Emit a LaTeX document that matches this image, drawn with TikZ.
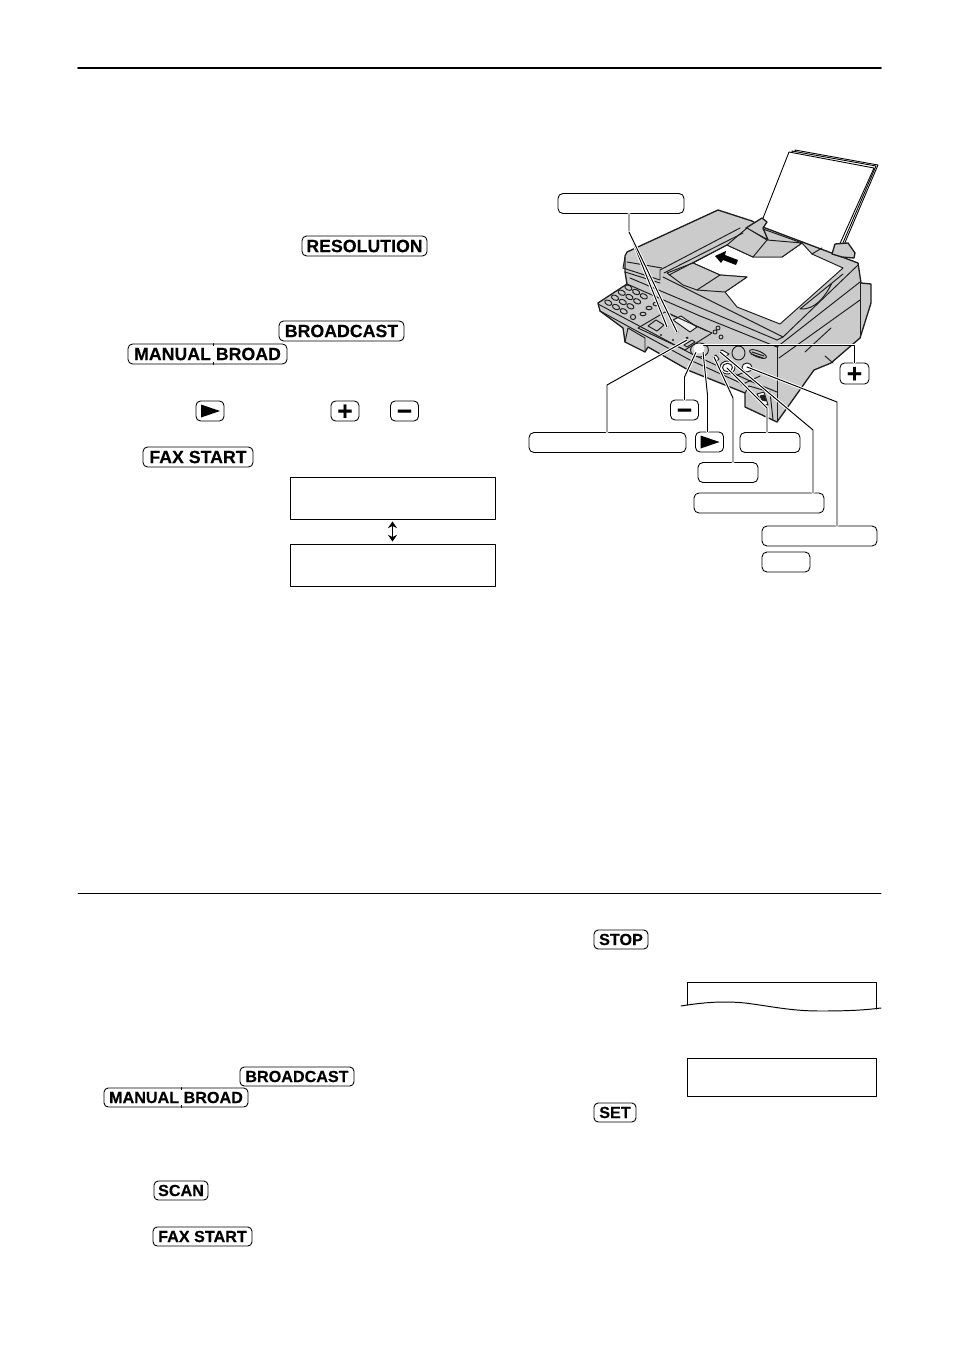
\documentclass[tikz,border=0pt]{standalone}
\usepackage{fontspec}
\setmainfont[BoldFeatures={FakeBold=0.2}]{Liberation Sans}
\usetikzlibrary{arrows,arrows.meta,positioning,calc}

\begin{document}
\begin{tikzpicture}[x=0.02cm,y=-0.02cm,>=stealth', line cap=round, line join=round,
      keybig/.style={draw=black,line width=0.5pt,rounded corners=2.6pt,inner sep=0pt,minimum height=0.4cm,font=\fontsize{10.1}{12}\bfseries\selectfont},
      keysmall/.style={draw=black,line width=0.5pt,rounded corners=2.4pt,inner sep=0pt,minimum height=0.38cm,font=\fontsize{9.2}{11}\bfseries\selectfont},
      keysign/.style={keybig,minimum width=0.56cm,font=\fontsize{15}{15}\bfseries\selectfont},
      callout/.style={draw=black,line width=0.5pt,rounded corners=2.8pt,inner sep=0pt,minimum height=0.4cm,fill=white},
      display/.style={draw=black,line width=0.55pt,inner sep=0pt},
      body/.style={fill=bodygray,draw=edge,line width=0.75pt},
      part/.style={draw=edge,line width=0.55pt},
      lead/.style={draw=black,line width=0.55pt,preaction={draw=white,line width=1.7pt}}]
      \definecolor{bodygray}{HTML}{CBCBCB}
      \definecolor{edge}{HTML}{1E1E1E}
      \newcommand{\plussign}{\raisebox{-5.1pt}[0pt][0pt]{+}}
      \newcommand{\minussign}{\raisebox{-5.1pt}[0pt][0pt]{−}}
      \path[use as bounding box,fill=white] (0,0) rectangle (954,1349);

      % rules
      \draw[line width=1.1pt] (78,68) -- (881,68);
      \draw[line width=0.55pt] (78,893) -- (881,893);

      % upper text keys
      \node[keybig,minimum width=2.5cm] (kres) at (364.5,246) {RESOLUTION};
      \node[keybig,minimum width=2.5cm] (kbroad) at (341.5,331) {BROADCAST};
      \node[keybig,minimum width=3.18cm] (kmanual) at (207.5,354) {MANUAL BROAD};
      \node[keybig,minimum width=2.2cm] (kfax) at (198,457) {FAX START};
      \node[keysign] (kplay) at (210,411) {};
      \node[keysign] (kplus) at (345,411) {\plussign};
      \node[keysign] (kminus) at (404.5,411) {\minussign};
      \fill ($(kplay)+(-9,-6.5)$) -- ($(kplay)+(10,0)$) -- ($(kplay)+(-9,6.5)$) -- cycle;
      \coordinate (t0) at (213,354);
      \draw[line width=0.5pt] (kmanual.north -| t0) -- ++(0,2);
      \draw[line width=0.5pt] (kmanual.south -| t0) -- ++(0,-2);

      % upper displays
      \node[display,minimum width=4.1cm,minimum height=0.84cm] (disp0) at (392.5,498) {};
      \node[display,minimum width=4.1cm,minimum height=0.84cm] (disp1) at (392.5,565) {};
      \coordinate (sw0) at ($(disp0.south)+(0,2)$);
      \coordinate (sw1) at ($(disp1.north)+(0,-2)$);
      \draw[{Stealth[length=3.8pt,width=5.2pt]}-{Stealth[length=3.8pt,width=5.2pt]},line width=0.9pt] (sw0) -- (sw1);

      % lower keys
      \node[keysmall,minimum width=2.28cm] (kbroad2) at (297,1076.5) {BROADCAST};
      \node[keysmall,minimum width=2.88cm] (kmanual2) at (176,1097.5) {MANUAL BROAD};
      \node[keysmall,minimum width=1.08cm] (kscan) at (181,1190.5) {SCAN};
      \node[keysmall,minimum width=1.98cm] (kfax2) at (202.5,1236.5) {FAX START};
      \node[keysmall,minimum width=1.08cm] (kstop) at (621,939.5) {STOP};
      \node[keysmall,minimum width=0.84cm] (kset) at (615,1112.5) {SET};
      \coordinate (t1) at (181,1097);
      \draw[line width=0.5pt] (kmanual2.north -| t1) -- ++(0,2);
      \draw[line width=0.5pt] (kmanual2.south -| t1) -- ++(0,-2);

      % lower displays
      \draw[display] (687,1005) -- (687,982) -- (876,982) -- (876,1009);
      \draw[line width=0.55pt] (681,1006) .. controls (705,1002) and (725,1001) .. (745,1003)
        .. controls (770,1006) and (790,1011) .. (820,1011) .. controls (850,1011) and (865,1010) .. (881,1008);
      \node[display,minimum width=3.78cm,minimum height=0.76cm] (disp2) at (781.5,1077) {};

      % paper on the stand
      \draw[fill=white,line width=0.5pt] (795,150) -- (878,165) -- (838,259) -- (830,256) -- cycle;
      \draw[fill=white,line width=0.5pt] (792,151) -- (876,166) -- (836,259) -- (800,240) -- cycle;
      \draw[fill=white,line width=0.5pt] (789,152) -- (874,168) -- (833,259) -- (756,236) -- cycle;

      % fax body
      \draw[body] (625,256) -- (627,252) -- (718,210) -- (752,221) -- (760,226) -- (858,263) -- (861,283)
        -- (871,284) -- (871,303) -- (860,338) -- (831,363) -- (814,370) -- (777,422) -- (745,407) -- (745,393)
        -- (690,371) -- (648,347) -- (645,352) -- (625,342) -- (623,328) -- (600,311) -- (598,303) -- (627,284)
        -- (625,272) -- cycle;
      % stand feet
      \draw[body] (746,228) -- (762,218) -- (767,222) -- (763,228) -- (768,240) -- (757,234) -- cycle;
      \draw[body] (832,254) -- (835,244) -- (848,243) -- (855,253) -- (854,258) -- (842,257) -- cycle;

      % top of the cover, paper and trays
      \draw[part,fill=white] (693,263) -- (727,245) -- (753,257) -- (782,257) -- (802,243) -- (812,254)
        -- (843,268) -- (780,324) -- (737,307) -- (725,292) -- (747,277) -- (720,275) -- cycle;
      \draw[part,fill=bodygray] (667,273) -- (693,263) -- (720,275) -- (747,277) -- (725,292) -- (697,290) -- (683,285) -- cycle;
      \draw[part] (697,290) -- (720,275);
      \draw[part,fill=bodygray] (727,245) -- (747,228) -- (767,240) -- (802,243) -- (782,257) -- (753,257) -- cycle;
      \draw[part] (753,257) -- (767,240);
      \draw[part] (763,229) -- (802,243);
      \draw[part] (812,254) -- (822,248);
      \fill (715,256) -- (726,251) -- (725,255) -- (738,260) -- (736,265) -- (723,260) -- (721,263) -- cycle;

      % lid and front edges
      \draw[part] (625,257) -- (623,268) -- (660,280) -- (660,270) -- (740,228);
      \draw[part] (627,262) -- (662,268);
      \draw[part] (664,273) -- (743,233);
      \draw[part] (669,275) -- (727,245);
      \draw[part] (625,272) -- (660,283);
      \draw[part] (663,277) -- (783,337);
      \draw[part] (630,278) -- (777,340);
      \draw[part] (627,284) -- (700,316) -- (725,326) -- (777,347);
      \draw[part] (598,304) -- (690,353) -- (750,381) -- (777,392);
      \draw[part] (600,311) -- (690,360) -- (745,385);
      \draw[part] (858,265) -- (783,337) -- (777,340);
      \draw[part] (843,274) -- (800,309) .. controls (815,310) and (825,297) .. (832,283);
      \draw[part] (777,347) -- (860,282);
      \draw[part] (779,358) -- (860,300);
      \draw[part] (777,347) -- (777,422);
      \draw[part] (860,283) -- (860,338);
      \draw[part] (805,352) -- (831,328);
      \draw[part] (825,356) -- (833,363);
      \draw[part] (625,342) -- (628,328) -- (645,338) -- (645,352);
      \draw[part] (745,393) -- (749,386) -- (770,392) -- (773,420);
      \draw[part,fill=white] (757,394) -- (764,392) -- (768,405) -- (762,404) -- cycle;
      \draw[part,fill=edge] (760,396) -- (764,395) -- (766,401) -- (762,400) -- cycle;

      % keypad
      \foreach \i in {0,1,2,3}
        \foreach \j in {0,1,2}
          \draw[part,fill=bodygray,rotate around={-25:(608.3+6.7*\i+7.7*\j,302.7-5*\i+4.3*\j)}]
            (608.3+6.7*\i+7.7*\j,302.7-5*\i+4.3*\j) ellipse (3.8 and 2.4);
      \draw[part] (633,317) circle (2.6);
      \draw[part] (643,314) ellipse (3 and 1.8);
      \draw[part] (649,308) ellipse (3 and 1.8);
      \draw[part] (656,304) ellipse (3 and 1.8);

      % control panel
      \draw[part] (638,328) -- (665,312) -- (712,333) -- (685,350) -- cycle;
      \draw[part] (648,326) -- (656,320) -- (664,325) -- (657,331) -- cycle;
      \draw[part,fill=white!70!bodygray] (673,320) -- (681,316) -- (697,327) -- (690,332) -- cycle;
      \draw[part] (668,313) -- (707,331);
      \fill[edge] (667,327) circle (1.5) (677,332) circle (1.5) (687,338) circle (1.5) (697,344) circle (1.3) (661,335) circle (1.2) (673,340) circle (1.2);
      \draw[part] (684,345) -- (692,340) -- (695,342) -- (687,347) -- cycle;

      % buttons right of the panel
      \draw[part] (715,332) circle (2) (721,337) circle (2) (718,328) circle (2);
      \draw[part,fill=white] (719,352) -- (722,350) -- (729,354) -- (726,356) -- cycle;
      \draw[part,fill=white] (713,357) -- (716,355) -- (719,359) -- (717,361) -- cycle;
      \draw[part] (738.5,353) ellipse (6.5 and 7);
      \draw[part,fill=bodygray,rotate around={-22:(758,354)}] (758,354) ellipse (9 and 3);
      \draw[part] (752,352) -- (764,356) (751,354) -- (763,358);
      \draw[part,fill=bodygray] (699.5,350) ellipse (9 and 7);
      \draw[part,fill=white] (727.5,367.5) ellipse (7.5 and 6.5);
      \draw[part,fill=white] (727.5,367.5) ellipse (5 and 4.2);
      \draw[part,fill=white] (747,367.5) ellipse (5 and 4.5);
      \draw[part] (735,376) -- (745,372);
      \draw[part] (741,385) -- (760,376);

      % callouts
      \node[callout,minimum width=2.52cm] (bA) at (621,203.5) {};
      \node[callout,minimum width=3.14cm] (bB) at (607.5,442.5) {};
      \node[callout,minimum width=1.2cm] (bC) at (770,442.5) {};
      \node[callout,minimum width=1.2cm] (bD) at (728,472.5) {};
      \node[callout,minimum width=2.6cm] (bE) at (759,503) {};
      \node[callout,minimum width=2.3cm] (bF) at (819.5,536) {};
      \node[callout,minimum width=0.96cm] (bG) at (786,562) {};
      \node[keysign,minimum width=0.58cm,minimum height=0.42cm,fill=white] (fplus) at (854.5,373.5) {\plussign};
      \node[keysign,fill=white] (fminus) at (684.5,410) {\minussign};
      \node[keysign,fill=white] (fplay) at (709.5,442) {};
      \fill ($(fplay)+(-9,-6.5)$) -- ($(fplay)+(10,0)$) -- ($(fplay)+(-9,6.5)$) -- cycle;

      % leader ends
      \coordinate (a0) at (629,232);
      \coordinate (a1) at (667,327);
      \coordinate (a2) at (677,332);
      \coordinate (b0) at (607,385);
      \coordinate (b1) at (687,340);
      \coordinate (c0) at (767,408);
      \coordinate (c1) at (727,368);
      \coordinate (d0) at (733,398);
      \coordinate (d1) at (714,357);
      \coordinate (e0) at (813,430);
      \coordinate (e1) at (720,352);
      \coordinate (f0) at (837,402);
      \coordinate (f1) at (747,367);
      \coordinate (m0) at (684.5,377);
      \coordinate (m1) at (697,350);
      \coordinate (r0) at (707.5,395);
      \coordinate (r1) at (703,352);
      \coordinate (p0) at (854.5,345);
      \coordinate (p1) at (698,345);

      \draw[lead] (bA.south -| a0) -- (a0) -- (a1);
      \draw[lead] (a0) -- (a2);
      \draw[lead] (bB.north -| b0) -- (b0) -- (b1);
      \draw[lead] (bC.north -| c0) -- (c0) -- (c1);
      \draw[lead] (bD.north -| d0) -- (d0) -- (d1);
      \draw[lead] (bE.north -| e0) -- (e0) -- (e1);
      \draw[lead] (bF.north -| f0) -- (f0) -- (f1);
      \draw[lead] (fminus.north -| m0) -- (m0) -- (m1);
      \draw[lead] (fplay.north -| r0) -- (r0) -- (r1);
      \draw[lead] (fplus.north -| p0) -- (p0) -- (p1);
      \fill[white] (699,348.5) ellipse (5.5 and 5);
    \end{tikzpicture}
\end{document}
